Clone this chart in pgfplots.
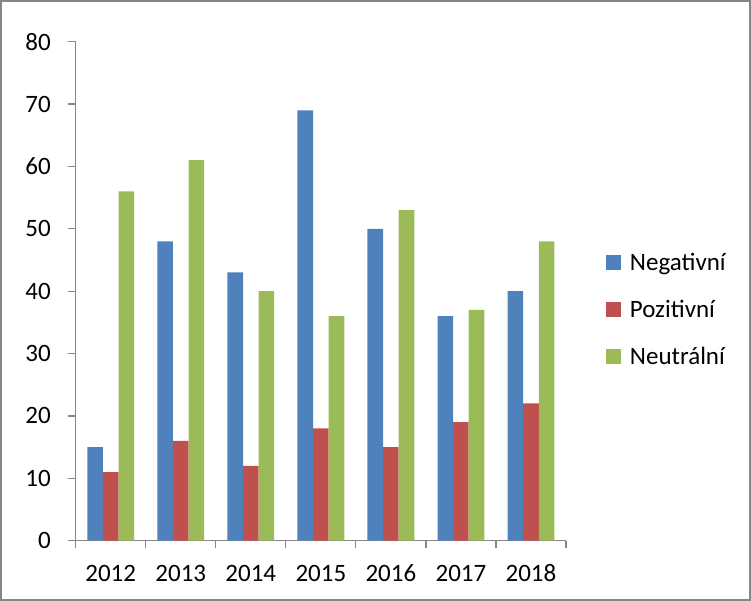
\documentclass[border=0pt]{standalone}
\usepackage{pgfplots}
\pgfplotsset{compat=1.18}
\usepackage{fontspec}
\setmainfont{Carlito}
\definecolor{cneg}{HTML}{4F81BD}
\definecolor{cpos}{HTML}{C0504D}
\definecolor{cneu}{HTML}{9BBB59}
\definecolor{axgray}{HTML}{868686}
\begin{document}
\begin{tikzpicture}
\useasboundingbox (0,0) rectangle (751bp,601bp);
\draw[axgray, line width=1.5bp] (1bp,1bp) rectangle (750bp,600bp);
\begin{axis}[
  at={(75.7bp,60.3bp)}, anchor=south west,
  scale only axis, width=490.3bp, height=499bp,
  xmin=-0.5, xmax=6.5, ymin=0, ymax=80,
  ybar=0pt, bar width=15.6bp,
  axis lines*=left,
  axis line style={axgray, line width=1.2bp, -},
  every tick/.style={axgray, line width=1.2bp},
  tick align=outside, major tick length=7.5bp,
  xtick={-0.5,0.5,...,6.5},
  x tick label as interval,
  xticklabels={2012,2013,2014,2015,2016,2017,2018},
  ytick={0,10,...,80},
  /pgf/number format/assume math mode=true,
  tick label style={font=\fontsize{25bp}{30bp}\selectfont, text=black},
  xticklabel style={yshift=-12bp, text height=18bp, text depth=0bp},
  yticklabel style={xshift=-14bp},
  legend style={draw=none, fill=none, at={(1.075,0.463)}, anchor=west,
    font=\fontsize{25bp}{30bp}\selectfont, row sep=24.5bp,
    /tikz/every odd column/.style={column sep=7bp}},
  legend cell align=left,
  legend image code/.code={\fill[#1, draw=none] (0bp,-7.5bp) rectangle (15bp,7.5bp);},
]
\addplot[fill=cneg, draw=none] coordinates {(0,15) (1,48) (2,43) (3,69) (4,50) (5,36) (6,40)};
\addplot[fill=cpos, draw=none] coordinates {(0,11) (1,16) (2,12) (3,18) (4,15) (5,19) (6,22)};
\addplot[fill=cneu, draw=none] coordinates {(0,56) (1,61) (2,40) (3,36) (4,53) (5,37) (6,48)};
\legend{Negativní, Pozitivní, Neutrální}
\end{axis}
\end{tikzpicture}
\end{document}
